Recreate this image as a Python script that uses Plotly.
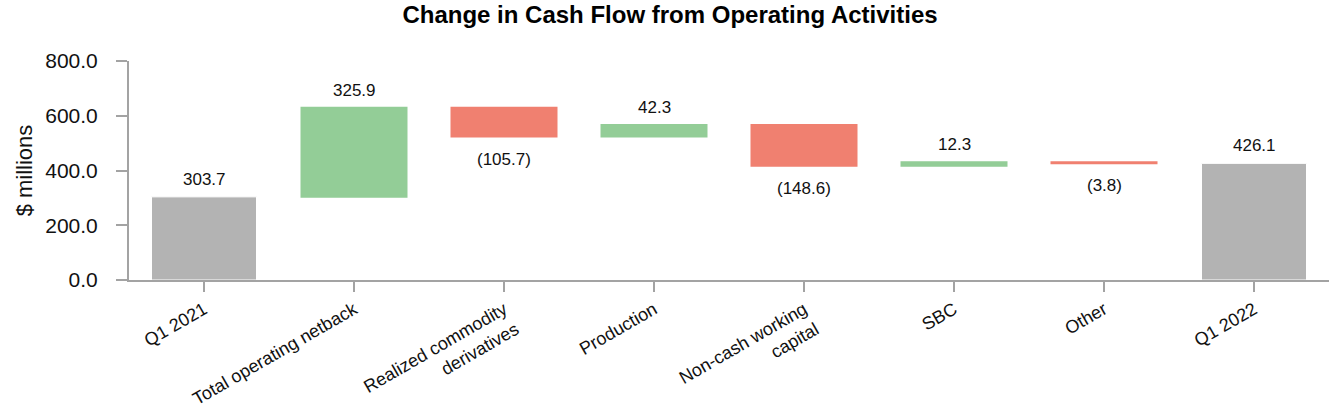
import plotly.graph_objects as go

categories = ["Q1 2021", "Total operating netback", "Realized commodity<br>derivatives",
              "Production", "Non-cash working<br>capital", "SBC", "Other", "Q1 2022"]
values = [303.7, 325.9, -105.7, 42.3, -148.6, 12.3, -3.8, 426.1]
measures = ["absolute", "relative", "relative", "relative", "relative", "relative", "relative", "total"]
y_ticks = [0, 200, 400, 600, 800]

labels = [f"({abs(v):.1f})" if v < 0 else f"{v:.1f}" for v in values]

GREEN = "#93cd97"
RED = "#f08070"
GREY = "#b3b3b3"
AXIS = "#a3a3a3"
FONT = "Liberation Sans, Arial, sans-serif"

fig = go.Figure(go.Waterfall(
    x=categories,
    y=values,
    measure=measures,
    textposition="none",
    increasing=dict(marker=dict(color=GREEN, line=dict(color=GREEN, width=2))),
    decreasing=dict(marker=dict(color=RED, line=dict(color=RED, width=2))),
    totals=dict(marker=dict(color=GREY, line=dict(color="white", width=1))),
    connector=dict(visible=False),
    width=0.7,
    hoverinfo="skip",
))

# value labels: above rising / total bars, below falling bars
running = 0.0
for cat, m, v, lab in zip(categories, measures, values, labels):
    if m == "absolute":
        start, end = 0.0, v
        running = v
    elif m == "total":
        start, end = 0.0, running
    else:
        start, end = running, running + v
        running = end
    if end >= start:
        fig.add_annotation(x=cat, y=end, text=lab, showarrow=False,
                           yanchor="bottom", yshift=6,
                           font=dict(size=17, family=FONT, color="#111111"))
    else:
        fig.add_annotation(x=cat, y=end, text=lab, showarrow=False,
                           yanchor="top", yshift=-11,
                           font=dict(size=17, family=FONT, color="#111111"))

fig.update_layout(
    width=1340, height=420,
    paper_bgcolor="white", plot_bgcolor="white",
    margin=dict(l=129, r=11, t=61, b=140),
    showlegend=False,
    font=dict(family=FONT, color="#111111"),
    title=dict(text="<b>Change in Cash Flow from Operating Activities</b>",
               x=0.5, xanchor="center", y=0.966, yanchor="middle",
               font=dict(size=24, family=FONT, color="#000000")),
)
fig.update_yaxes(
    range=[0, 800], tickvals=y_ticks, tickformat=".1f",
    automargin=False,
    showgrid=False, zeroline=False,
    showline=True, linecolor=AXIS, linewidth=2,
    ticks="outside", ticklen=11, tickcolor=AXIS, tickwidth=2,
    ticklabelstandoff=14,
    tickfont=dict(size=21, color="#111111"),
    title=dict(text="$ millions", font=dict(size=22, color="#111111"), standoff=7),
)
fig.update_xaxes(
    range=[-0.5, 7.5],
    automargin=False,
    showgrid=False, zeroline=False,
    showline=True, linecolor=AXIS, linewidth=2,
    ticks="outside", ticklen=10, tickcolor=AXIS, tickwidth=2,
    tickangle=-30,
    tickfont=dict(size=18, color="#111111"),
)

fig.write_html("out.html", config={"displayModeBar": False},
               post_script="document.body.style.margin='0';")
